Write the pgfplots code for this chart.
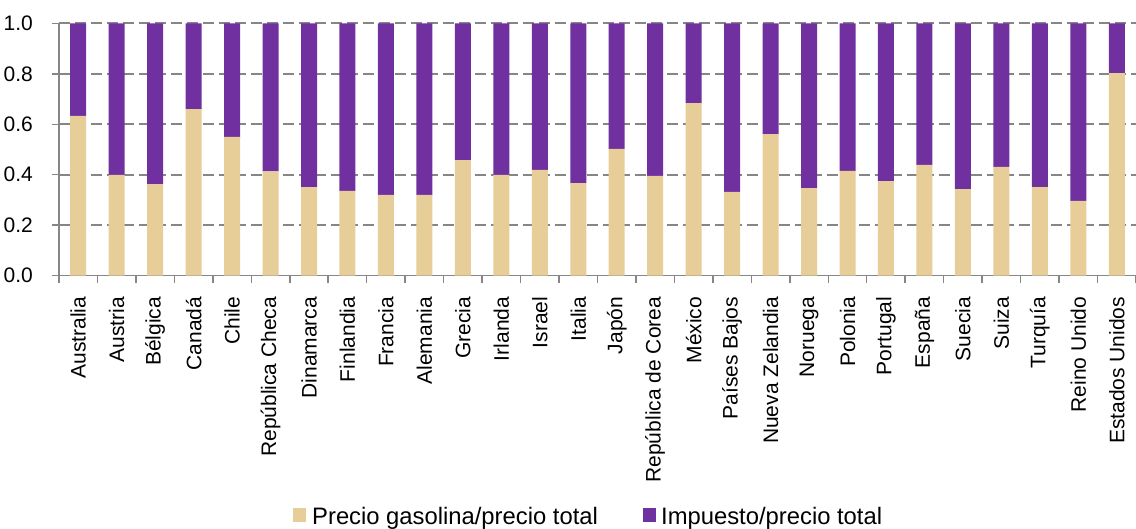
\documentclass[border=0pt]{standalone}
\usepackage{fontspec}
\setmainfont{Liberation Sans}
\usepackage{pgfplots}
\usepackage{pgfplotstable}
\pgfplotsset{compat=1.18}

\definecolor{gas}{RGB}{231,205,151}
\definecolor{tax}{RGB}{112,48,160}
\definecolor{axgray}{RGB}{134,134,134}

% share of gasoline price and of tax in the total pump price
\pgfplotstableread{
idx gas   tax
0   0.633 0.367
1   0.399 0.601
2   0.363 0.637
3   0.660 0.340
4   0.550 0.450
5   0.413 0.587
6   0.351 0.649
7   0.336 0.664
8   0.320 0.680
9   0.320 0.680
10  0.458 0.542
11  0.399 0.601
12  0.419 0.581
13  0.367 0.633
14  0.502 0.498
15  0.395 0.605
16  0.684 0.316
17  0.332 0.668
18  0.561 0.439
19  0.347 0.653
20  0.415 0.585
21  0.375 0.625
22  0.439 0.561
23  0.343 0.657
24  0.431 0.569
25  0.351 0.649
26  0.296 0.704
27  0.803 0.197
}\shares

\begin{document}
\begin{tikzpicture}
\path[use as bounding box] (0bp,0bp) rectangle (1136bp,529bp);
\begin{axis}[
  at={(59bp,253.3bp)}, anchor=south west,
  scale only axis, width=1077bp, height=252.4bp,
  xmin=-0.5, xmax=27.5, ymin=0, ymax=1,
  ybar stacked, bar width=16bp,
  axis lines*=left,
  axis line style={axgray, line width=1.5bp},
  ytick={0,0.2,0.4,0.6,0.8,1},
  yticklabels={0.0,0.2,0.4,0.6,0.8,1.0},
  ymajorgrids,
  major grid style={axgray, line width=1.6bp, dash pattern=on 11bp off 5bp},
  xtick={0,...,27},
  xticklabels={Australia,Austria,Bélgica,Canadá,Chile,República Checa,Dinamarca,Finlandia,Francia,Alemania,Grecia,Irlanda,Israel,Italia,Japón,República de Corea,México,Países Bajos,Nueva Zelandia,Noruega,Polonia,Portugal,España,Suecia,Suiza,Turquía,Reino Unido,Estados Unidos},
  minor xtick={-0.5,0.5,...,27.5},
  tick align=outside,
  major tick length=7bp, minor tick length=7bp,
  major x tick style={draw=none},
  minor x tick style={axgray, line width=1.5bp},
  y tick style={axgray, line width=1.5bp},
  tick label style={font=\fontsize{21bp}{25bp}\selectfont, text=black},
  xticklabel style={rotate=90, anchor=east, inner sep=0pt, xshift=-14bp},
  yticklabel style={anchor=east, inner sep=0pt, xshift=-19bp},
]
\addplot[fill=gas, draw=none] table[x=idx, y=gas] {\shares};
\addplot[fill=tax, draw=none] table[x=idx, y=tax] {\shares};
\end{axis}
% legend
\fill[gas] (293bp,7bp) rectangle (306bp,21bp);
\node[anchor=base west, inner sep=0pt, font=\fontsize{23.8bp}{28bp}\selectfont] at (312bp,5bp) {Precio gasolina/precio total};
\fill[tax] (643bp,7bp) rectangle (656bp,21bp);
\node[anchor=base west, inner sep=0pt, font=\fontsize{23.8bp}{28bp}\selectfont] at (661bp,5bp) {Impuesto/precio total};
\end{tikzpicture}
\end{document}
